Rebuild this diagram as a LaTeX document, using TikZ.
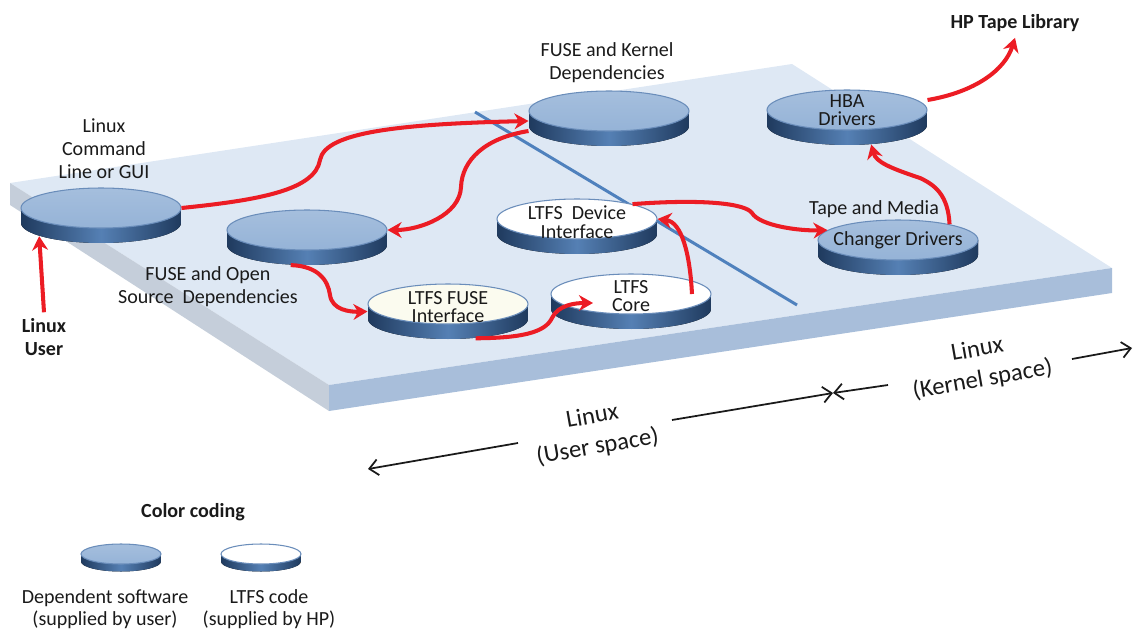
\documentclass[tikz,border=0pt]{standalone}
\usepackage{fontspec}
\setmainfont{Carlito}
\usetikzlibrary{arrows.meta,shapes.geometric}

\definecolor{slabtop}{HTML}{DEE8F4}
\definecolor{slableft}{HTML}{C5CEDA}
\definecolor{slabfront}{HTML}{A8BEDA}
\definecolor{splitblue}{HTML}{4F81BD}
\definecolor{discblue}{HTML}{95B3D7}
\definecolor{discedge}{HTML}{6A8DBA}
\definecolor{discdark}{HTML}{1F3A5E}
\definecolor{discmid}{HTML}{5580B4}
\definecolor{cream}{HTML}{FBFBEF}
\definecolor{flowred}{HTML}{EC1C24}
\definecolor{ink}{HTML}{1A1A1A}

\tikzset{
  disc/.style={ellipse, inner sep=0pt, draw=discedge, line width=0.6pt},
  depdisc/.style={disc, top color=discblue!85!white, bottom color=discblue},
  ltfsdisc/.style={disc, fill=white},
  disctext/.style={align=center, font=\fontsize{11.4}{10.5}\selectfont, text=ink},
  lbl/.style={align=center, font=\fontsize{11.4}{13}\selectfont, text=ink},
  boldlbl/.style={lbl, font=\fontsize{11.4}{13}\selectfont\bfseries},
  flowarrow/.style={flowred, line width=2.3pt, -{Stealth[length=8pt,width=9pt]}},
  spanarrow/.style={ink, line width=1pt, -{Straight Barb[length=5pt,width=9pt]}},
  spanlbl/.style={align=center, font=\fontsize{14}{17.5}\selectfont, text=ink, rotate=10, inner sep=1pt},
}

% #1 scale, #2 name, #3 x, #4 y, #5 style
\newcommand\drawdisc[5][1]{%
  \fill[left color=discdark, right color=discdark, middle color=discmid]
    (#3,#4) ++({-#1*1.6cm},0) -- ++(0,{-#1*0.3cm})
    arc[start angle=180, end angle=360, x radius=#1*1.6cm, y radius=#1*0.4cm]
    -- ++(0,{#1*0.3cm})
    arc[start angle=0, end angle=-180, x radius=#1*1.6cm, y radius=#1*0.4cm] -- cycle;
  \node[#5, minimum width=#1*3.2cm, minimum height=#1*0.8cm] (#2) at (#3,#4) {};
}

\begin{document}
\begin{tikzpicture}[x=0.02cm, y=-0.02cm]
\useasboundingbox (0,0) rectangle (1135,629);

% slab
\fill[slabtop] (10,183) -- (792,64) -- (1112,268) -- (329,385) -- cycle;
\fill[slableft] (10,183) -- (329,385) -- (329,411) -- (10,205) -- cycle;
\fill[slabfront] (329,385) -- (1112,268) -- (1112,293) -- (329,411) -- cycle;
\draw[splitblue, line width=1.7pt] (475,112) -- (797,305);

% discs
\drawdisc{cmd}{101}{208}{depdisc}
\drawdisc{fo}{307}{230}{depdisc}
\drawdisc{fk}{609}{111}{depdisc}
\drawdisc{hba}{847}{110}{depdisc}
\drawdisc{dev}{577}{219}{ltfsdisc}
\drawdisc{lf}{448}{304}{disc, fill=cream}
\drawdisc{core}{631}{294}{ltfsdisc}
\drawdisc{ch}{898}{240}{depdisc}
\drawdisc[0.5]{keydep}{121}{554}{depdisc}
\drawdisc[0.5]{keyltfs}{261}{554}{ltfsdisc}

\node[disctext] at (hba.center) {HBA\\Drivers};
\node[disctext] at (ch.center) {Changer Drivers};
\node[disctext] at ([yshift=-0.06cm]dev.center) {LTFS\ \ Device\\Interface};
\node[disctext] at ([yshift=-0.04cm]core.center) {LTFS\\Core};
\node[disctext] at ([yshift=-0.06cm]lf.center) {LTFS FUSE\\Interface};

% labels
\node[lbl] (cmdlbl) at (104,149) {Linux\\Command\\Line or GUI};
\node[lbl] (folbl) at (208,287) {FUSE and Open\\Source\ \ Dependencies};
\node[lbl] (fklbl) at (607,63) {FUSE and Kernel\\Dependencies};
\node[lbl] (tmlbl) at (874,209) {Tape and Media};
\node[boldlbl] (tape) at (1015,23) {HP Tape Library};
\node[boldlbl] (user) at (44,337) {Linux\\User};
\node[boldlbl] (key) at (193,512) {Color coding};
\node[lbl, font=\fontsize{11.4}{12.5}\selectfont] (keydeplbl) at (105,609) {Dependent software\\(supplied by user)};
\node[lbl, font=\fontsize{11.4}{12.5}\selectfont] (keyltfslbl) at (269,609) {LTFS code\\(supplied by HP)};

% red flows
\draw[flowarrow] (user.north) -- ([yshift=-0.3cm]cmd.192);
\draw[flowarrow] (cmd.east) .. controls (260,200) and (315,190) .. (320,160)
  .. controls (325,132) and (400,124) .. ([yshift=-0.2cm]fk.west);
\draw[flowarrow] ([yshift=-0.4cm]fk.west) .. controls (485,138) and (462,160) .. (461,187)
  .. controls (460,215) and (420,230) .. (fo.east);
\draw[flowarrow] ([yshift=-0.3cm]fo.231) .. controls (318,266) and (328,280) .. (330,295)
  .. controls (332,310) and (350,312) .. ([yshift=-0.15cm]lf.west);
\draw[flowarrow] ([yshift=-0.3cm]lf.325) .. controls (520,338) and (545,333) .. (552,318)
  .. controls (558,305) and (575,303) .. ([xshift=-0.76cm,yshift=-0.18cm]core.center);
\draw[flowarrow] ([xshift=1.22cm]core.center) .. controls (690,255) and (682,222) .. (dev.east);
\draw[flowarrow] (dev.15) .. controls (700,199) and (745,203) .. (752,213)
  .. controls (760,226) and (800,231) .. (ch.172);
\draw[flowarrow] (ch.17) .. controls (948,195) and (935,185) .. (920,178)
  .. controls (890,168) and (876,162) .. ([yshift=-0.3cm]hba.321);
\draw[flowarrow] ([yshift=0.2cm]hba.east) .. controls (975,92) and (1005,70) .. (tape.south);

% user / kernel space
\coordinate (usL) at (368,469);
\coordinate (usA) at (518,443);
\coordinate (usB) at (672,420);
\coordinate (split) at (833,393);
\coordinate (ksA) at (888,385);
\coordinate (ksB) at (1072,359);
\coordinate (ksR) at (1132,348);
\node[spanlbl] (uslbl) at (595,432) {Linux\\(User space)};
\node[spanlbl] (kslbl) at (980,365) {Linux\\(Kernel space)};
\draw[spanarrow] (usA) -- (usL);
\draw[spanarrow] (usB) -- (split);
\draw[spanarrow] (ksA) -- (split);
\draw[spanarrow] (ksB) -- (ksR);
\end{tikzpicture}
\end{document}
